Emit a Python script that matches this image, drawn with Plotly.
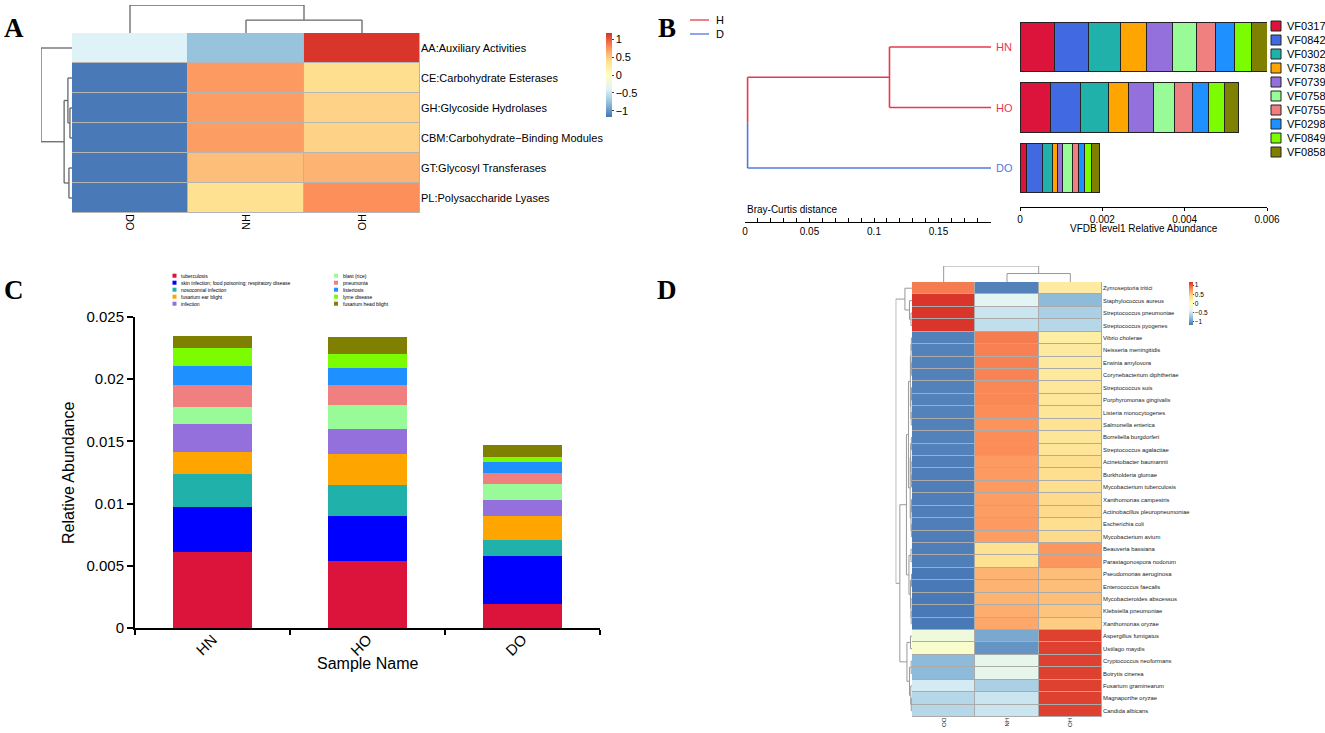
import plotly.graph_objects as go

W, H = 1325, 733
def px(x): return x / W
def py(y): return 1 - y / H

SANS = "Liberation Sans, Arial, Helvetica"
SERIF = "Liberation Serif, Times New Roman, serif"

RDYLBU = ["#4575B4", "#91BFDB", "#E0F3F8", "#FFFFBF", "#FEE090", "#FC8D59", "#D73027"]
CSCALE = [[i / 6, c] for i, c in enumerate(RDYLBU)]
ZR = 1.17
cb_vals = [1, 0.5, 0, -0.5, -1]
cb_text = ["1", "0.5", "0", "\u22120.5", "\u22121"]

# ---------------- Panel A data ----------------
a_cols = ["DO", "HN", "HO"]
a_rows = ["AA:Auxiliary Activities", "CE:Carbohydrate Esterases", "GH:Glycoside Hydrolases",
          "CBM:Carbohydrate\u2212Binding Modules", "GT:Glycosyl Transferases", "PL:Polysaccharide Lyases"]
a_z = [
    [-0.40, -0.75, 1.15],
    [-1.15, 0.72, 0.40],
    [-1.15, 0.70, 0.45],
    [-1.15, 0.70, 0.45],
    [-1.15, 0.55, 0.60],
    [-1.15, 0.38, 0.77],
]
a_col_tree = (0, (1, 2, 0.46), 1.0)
a_row_tree = (0, ((1, (2, 3, 2.0), 4.0), (4, 5, 3.0), 7.7), 30.3)

# ---------------- Panel B data ----------------
b_samples = ["HN", "HO", "DO"]
b_groups = ["H", "H", "D"]
b_group_names = ["H", "D"]
b_group_colors = ["#E8384F", "#5078E0"]
b_tree = ((0, 1, 0.112), 2, 0.002)
b_leaf = 0.1907
b_vf = ["VF0317", "VF0842", "VF0302", "VF0738", "VF0739", "VF0758", "VF0755", "VF0298", "VF0849", "VF0858"]
b_colors = ["#DC143C", "#4169E1", "#20B2AA", "#FFA500", "#9370DB", "#98FB98", "#F08080", "#1E90FF", "#7CFC00", "#808000"]
b_HN = [0.000836, 0.000817, 0.000778, 0.000632, 0.000632, 0.000584, 0.000467, 0.000466, 0.000409, 0.000379]
b_HO = [0.000729, 0.000730, 0.000690, 0.000486, 0.000603, 0.000506, 0.000437, 0.000409, 0.000369, 0.000360]
b_DO = [0.000165, 0.000389, 0.000234, 0.000117, 0.000136, 0.000224, 0.000166, 0.000126, 0.000175, 0.000194]

# ---------------- Panel C data ----------------
c_samples = ["HN", "HO", "DO"]
c_diseases = ["tuberculosis", "skin infection; food poisoning; respiratory disease", "nosocomial infection",
              "fusarium ear blight", "infection", "blast (rice)", "pneumonia", "listeriosis",
              "lyme disease", "fusarium head blight"]
c_colors = ["#DC143C", "#0000FF", "#20B2AA", "#FFA500", "#9370DB", "#98FB98", "#F08080", "#1E90FF", "#7CFC00", "#808000"]
c_HN = [0.00607, 0.00368, 0.00266, 0.00177, 0.00220, 0.00142, 0.00172, 0.00158, 0.00138, 0.00102]
c_HO = [0.00537, 0.00365, 0.00250, 0.00250, 0.00198, 0.00191, 0.00164, 0.00139, 0.00111, 0.00137]
c_DO = [0.00190, 0.00389, 0.00131, 0.00193, 0.00124, 0.00133, 0.00084, 0.00093, 0.00038, 0.00096]

# ---------------- Panel D data ----------------
d_cols = ["DO", "HN", "HO"]
d_rows = ["Zymoseptoria tritici", "Staphylococcus aureus", "Streptococcus pneumoniae", "Streptococcus pyogenes",
          "Vibrio cholerae", "Neisseria meningitidis", "Erwinia amylovora", "Corynebacterium diphtheriae",
          "Streptococcus suis", "Porphyromonas gingivalis", "Listeria monocytogenes", "Salmonella enterica",
          "Borreliella burgdorferi", "Streptococcus agalactiae", "Acinetobacter baumannii", "Burkholderia glumae",
          "Mycobacterium tuberculosis", "Xanthomonas campestris", "Actinobacillus pleuropneumoniae",
          "Escherichia coli", "Mycobacterium avium", "Beauveria bassiana", "Parastagonospora nodorum",
          "Pseudomonas aeruginosa", "Enterococcus faecalis", "Mycobacteroides abscessus", "Klebsiella pneumoniae",
          "Xanthomonas oryzae", "Aspergillus fumigatus", "Ustilago maydis", "Cryptococcus neoformans",
          "Botrytis cinerea", "Fusarium graminearum", "Magnaporthe oryzae", "Candida albicans"]
d_z = [
    [0.85, -1.10, 0.25], [1.15, -0.35, -0.80], [1.15, -0.50, -0.65], [1.15, -0.55, -0.60],
    [-1.10, 0.85, 0.22], [-1.10, 0.83, 0.27], [-1.10, 0.83, 0.27], [-1.10, 0.82, 0.28],
    [-1.10, 0.80, 0.30], [-1.10, 0.80, 0.30], [-1.10, 0.78, 0.32], [-1.10, 0.75, 0.35],
    [-1.10, 0.78, 0.32], [-1.10, 0.78, 0.33], [-1.12, 0.72, 0.40], [-1.12, 0.72, 0.40],
    [-1.12, 0.72, 0.40], [-1.12, 0.70, 0.42], [-1.12, 0.70, 0.42], [-1.12, 0.72, 0.40],
    [-1.12, 0.70, 0.42], [-1.12, 0.38, 0.74], [-1.12, 0.38, 0.74], [-1.15, 0.60, 0.55],
    [-1.15, 0.60, 0.55], [-1.15, 0.60, 0.55], [-1.15, 0.63, 0.52], [-1.15, 0.66, 0.48],
    [-0.20, -0.90, 1.10], [-0.08, -1.00, 1.10], [-0.80, -0.30, 1.10], [-0.80, -0.30, 1.10],
    [-0.45, -0.65, 1.10], [-0.60, -0.50, 1.10], [-0.60, -0.50, 1.10],
]
d_col_tree = (0, (1, 2, 0.53), 1.0)
_g1 = (0, (1, (2, 3, 1.0), 2.5), 7.0)
_g2a1 = (((4, 5, 0.6), (6, 7, 0.6), 1.0), ((8, 9, 0.5), (10, 11, 0.8), 1.1), 1.6)
_g2a2 = (((12, 13, 0.6), (14, (15, 16, 0.5), 0.9), 1.3), ((17, 18, 0.5), (19, 20, 0.6), 1.0), 1.8)
_g2b = ((21, 22, 1.0), ((23, 24, 0.5), (25, (26, 27, 0.8), 1.0), 1.5), 3.0)
_g3 = ((28, 29, 1.5), ((30, 31, 0.8), (32, (33, 34, 0.7), 1.2), 2.5), 5.0)
d_row_tree = (_g1, (((_g2a1, _g2a2, 3.5), _g2b, 5.5), _g3, 12.0), 16.0)


# ---------------- helpers ----------------
def center(node):
    if isinstance(node, int):
        return float(node)
    return (center(node[0]) + center(node[1])) / 2


def height(node, leaf_h=0.0):
    return leaf_h if isinstance(node, int) else node[2]


def dendro(tree, leaf_h=0.0):
    segs = []

    def rec(node):
        if isinstance(node, int):
            return float(node), leaf_h
        l, r, h = node
        pl, hl = rec(l)
        pr, hr = rec(r)
        segs.append((pl, hl, pl, h))
        segs.append((pl, h, pr, h))
        segs.append((pr, h, pr, hr))
        return (pl + pr) / 2, h

    rec(tree)
    return segs


def seg_xy(segs, pos_is_x=True):
    xs, ys = [], []
    for p0, h0, p1, h1 in segs:
        if pos_is_x:
            xs += [p0, p1, None]; ys += [h0, h1, None]
        else:
            xs += [h0, h1, None]; ys += [p0, p1, None]
    return xs, ys


def note(x, y, text, size, xanchor="center", yanchor="middle", color="black", family=SANS, **kw):
    d = dict(x=px(x), y=py(y), xref="paper", yref="paper", text=text, showarrow=False,
             xanchor=xanchor, yanchor=yanchor, font=dict(family=family, size=size, color=color))
    d.update(kw)
    return d


fig = go.Figure()
shapes, annos = [], []

# ================= Panel A =================
fig.add_trace(go.Heatmap(
    z=a_z, x=list(range(len(a_cols))), y=list(range(len(a_rows))), colorscale=CSCALE,
    zmin=-ZR, zmax=ZR, xgap=1, ygap=1, xaxis="x", yaxis="y", hoverinfo="skip",
    colorbar=dict(x=px(606), xanchor="left", y=py(33), yanchor="top", len=84, lenmode="pixels",
                  thickness=6, xpad=0, ypad=0, outlinewidth=0, tickvals=cb_vals, ticktext=cb_text,
                  ticks="outside", ticklen=2, tickfont=dict(size=11, family=SANS, color="black"))))
shapes.append(dict(type="rect", xref="x", yref="y", x0=-0.5, x1=len(a_cols) - 0.5, y0=-0.5,
                   y1=len(a_rows) - 0.5, fillcolor="#B5B5B5", line=dict(width=1, color="#B5B5B5"), layer="below"))
xs, ys = seg_xy(dendro(a_col_tree), pos_is_x=True)
fig.add_trace(go.Scatter(x=xs, y=ys, mode="lines", line=dict(color="#666666", width=1.3),
                         xaxis="x2", yaxis="y2", hoverinfo="skip"))
xs, ys = seg_xy(dendro(a_row_tree), pos_is_x=False)
fig.add_trace(go.Scatter(x=xs, y=ys, mode="lines", line=dict(color="#666666", width=1.3),
                         xaxis="x3", yaxis="y3", hoverinfo="skip"))

# ================= Panel B =================
left, right, hroot = b_tree
pl, pr = center(left), center(right)
mid = (pl + pr) / 2
red_segs = dendro(left, b_leaf) + [(pl, height(left, b_leaf), pl, hroot), (pl, hroot, mid, hroot)]
blue_segs = dendro(right, b_leaf) + [(pr, height(right, b_leaf), pr, hroot), (mid, hroot, pr, hroot)]
for segs, col in [(red_segs, b_group_colors[0]), (blue_segs, b_group_colors[1])]:
    xs, ys = seg_xy(segs, pos_is_x=False)
    fig.add_trace(go.Scatter(x=xs, y=ys, mode="lines", line=dict(color=col, width=1.6),
                             xaxis="x4", yaxis="y4", hoverinfo="skip"))
for i, s in enumerate(b_samples):
    col = b_group_colors[b_group_names.index(b_groups[i])]
    annos.append(dict(x=b_leaf, y=i, xref="x4", yref="y4", text=s, showarrow=False, xanchor="left",
                      yanchor="middle", xshift=3, font=dict(family=SANS, size=11, color=col)))
annos.append(note(745, 210, "Bray-Curtis distance", 10, xanchor="left"))
for k, g in enumerate(b_group_names):
    yy = 20 + 14 * k
    shapes.append(dict(type="line", xref="paper", yref="paper", x0=px(690), x1=px(709), y0=py(yy), y1=py(yy),
                       line=dict(color=b_group_colors[k], width=1.3)))
    annos.append(note(714, yy, g, 11, xanchor="left"))

b_all = [b_HN, b_HO, b_DO]
for j, vf in enumerate(b_vf):
    fig.add_trace(go.Bar(x=[row[j] for row in b_all], y=list(range(len(b_samples))), orientation="h",
                         marker=dict(color=b_colors[j], line=dict(color="#222222", width=1)), width=0.82,
                         xaxis="x5", yaxis="y5", hoverinfo="skip"))
annos.append(note(1144, 229, "VFDB level1 Relative Abundance", 10))
for j, vf in enumerate(b_vf):
    yy = 26 + 14 * j
    shapes.append(dict(type="rect", xref="paper", yref="paper", x0=px(1271), x1=px(1281),
                       y0=py(yy - 5), y1=py(yy + 5), fillcolor=b_colors[j], line=dict(color="#222222", width=1)))
    annos.append(note(1285, yy, vf, 11, xanchor="left"))

# ================= Panel C =================
c_all = [c_HN, c_HO, c_DO]
for j, dname in enumerate(c_diseases):
    fig.add_trace(go.Bar(x=c_samples, y=[row[j] for row in c_all], marker=dict(color=c_colors[j], line=dict(width=0)),
                         width=0.51, xaxis="x6", yaxis="y6", hoverinfo="skip"))
for j, dname in enumerate(c_diseases):
    colx = 172.5 if j < 5 else 334.0
    yy = 275.7 + 7 * (j % 5)
    shapes.append(dict(type="rect", xref="paper", yref="paper", x0=px(colx), x1=px(colx + 4),
                       y0=py(yy - 2), y1=py(yy + 2), fillcolor=c_colors[j], line=dict(width=0)))
    annos.append(note(colx + 6.5, yy, dname, 5, xanchor="left"))
annos.append(note(68, 473, "Relative Abundance", 16, textangle=-90))
annos.append(note(367, 663, "Sample Name", 16))

# ================= Panel D =================
fig.add_trace(go.Heatmap(
    z=d_z, x=list(range(len(d_cols))), y=list(range(len(d_rows))), colorscale=CSCALE,
    zmin=-ZR, zmax=ZR, xgap=1, ygap=1, xaxis="x7", yaxis="y7", hoverinfo="skip",
    colorbar=dict(x=px(1189), xanchor="left", y=py(282), yanchor="top", len=43, lenmode="pixels",
                  thickness=4, xpad=0, ypad=0, outlinewidth=0, tickvals=cb_vals, ticktext=cb_text,
                  ticks="outside", ticklen=1, tickfont=dict(size=6.5, family=SANS, color="black"))))
shapes.append(dict(type="rect", xref="x7", yref="y7", x0=-0.5, x1=len(d_cols) - 0.5, y0=-0.5,
                   y1=len(d_rows) - 0.5, fillcolor="#ABABAB", line=dict(width=1, color="#ABABAB"), layer="below"))
xs, ys = seg_xy(dendro(d_col_tree), pos_is_x=True)
fig.add_trace(go.Scatter(x=xs, y=ys, mode="lines", line=dict(color="#999999", width=1),
                         xaxis="x8", yaxis="y8", hoverinfo="skip"))
xs, ys = seg_xy(dendro(d_row_tree), pos_is_x=False)
fig.add_trace(go.Scatter(x=xs, y=ys, mode="lines", line=dict(color="#999999", width=1),
                         xaxis="x9", yaxis="y9", hoverinfo="skip"))

# ================= panel letters =================
for lab, (lx, ly) in {"A": (14, 28), "B": (667, 28), "C": (14, 290), "D": (667, 290)}.items():
    annos.append(note(lx, ly, f"<b>{lab}</b>", 27, family=SERIF))


def hidden(domain, rng, anchor):
    return dict(domain=domain, range=rng, visible=False, showgrid=False, zeroline=False, anchor=anchor)


base_tick = dict(showgrid=False, zeroline=False)
a_dom_x = [px(72), px(420)]
a_dom_y = [py(213), py(33)]
b_dom_y = [py(198.25), py(16.75)]
d_dom_x = [px(912), px(1102)]
d_dom_y = [py(717), py(282)]

fig.update_layout(
    width=W, height=H, margin=dict(l=0, r=0, t=0, b=0, autoexpand=False),
    paper_bgcolor="white", plot_bgcolor="white", showlegend=False, barmode="stack",
    font=dict(family=SANS, color="black"),
    xaxis=dict(domain=a_dom_x, range=[-0.5, 2.5], anchor="y", tickmode="array", tickvals=list(range(3)),
               ticktext=a_cols, tickangle=90, ticks="", showline=False,
               tickfont=dict(family=SANS, size=11, color="black"), **base_tick),
    yaxis=dict(domain=a_dom_y, range=[len(a_rows) - 0.5, -0.5], anchor="x", side="right", tickmode="array",
               tickvals=list(range(len(a_rows))), ticktext=a_rows, ticks="", showline=False,
               tickfont=dict(family=SANS, size=11, color="black"), **base_tick),
    xaxis2=hidden(a_dom_x, [-0.5, 2.5], "y2"),
    yaxis2=hidden([py(33), py(5)], [0, 1.0], "x2"),
    xaxis3=hidden([px(41), px(72)], [30.3, 0], "y3"),
    yaxis3=hidden(a_dom_y, [len(a_rows) - 0.5, -0.5], "x3"),
    xaxis4=dict(domain=[px(745), px(991)], range=[0, b_leaf], anchor="free", position=py(222),
                showline=True, linecolor="black", linewidth=1, ticks="inside", ticklen=4, tickcolor="black",
                tickmode="array", tickvals=[0, 0.05, 0.1, 0.15], ticktext=["0", "0.05", "0.1", "0.15"],
                minor=dict(dtick=0.01, tick0=0, ticks="inside", ticklen=4, tickcolor="black"),
                tickfont=dict(family=SANS, size=10, color="black"), **base_tick),
    yaxis4=hidden(b_dom_y, [2.5, -0.5], "x4"),
    xaxis5=dict(domain=[px(1020), px(1267)], range=[0, 0.006], anchor="free", position=py(207),
                showline=True, linecolor="black", linewidth=1, ticks="outside", ticklen=3, tickcolor="black",
                tickmode="array", tickvals=[0, 0.002, 0.004, 0.006], ticktext=["0", "0.002", "0.004", "0.006"],
                tickfont=dict(family=SANS, size=10, color="black"), **base_tick),
    yaxis5=hidden(b_dom_y, [2.5, -0.5], "x5"),
    xaxis6=dict(domain=[px(135), px(600)], anchor="y6", type="category", categoryorder="array",
                categoryarray=c_samples, range=[-0.5, 2.5], showline=True, linecolor="black", linewidth=2,
                ticks="outside", tickson="boundaries", ticklen=5, tickwidth=2, tickcolor="black", tickangle=-45,
                ticklabelstandoff=-5,
                tickfont=dict(family=SANS, size=15, color="black"), **base_tick),
    yaxis6=dict(domain=[py(628), py(317)], range=[0, 0.025], anchor="x6", showline=True, linecolor="black",
                linewidth=2, ticks="outside", ticklen=6, tickwidth=2, tickcolor="black", tickmode="array",
                tickvals=[0, 0.005, 0.01, 0.015, 0.02, 0.025],
                ticktext=["0", "0.005", "0.01", "0.015", "0.02", "0.025"],
                tickfont=dict(family=SANS, size=15, color="black"), **base_tick),
    xaxis7=dict(domain=d_dom_x, range=[-0.5, 2.5], anchor="y7", tickmode="array", tickvals=list(range(3)),
                ticktext=d_cols, tickangle=90, ticks="", showline=False,
                tickfont=dict(family=SANS, size=6, color="#222222"), **base_tick),
    yaxis7=dict(domain=d_dom_y, range=[len(d_rows) - 0.5, -0.5], anchor="x7", side="right", tickmode="array",
                tickvals=list(range(len(d_rows))), ticktext=d_rows, ticks="", showline=False,
                tickfont=dict(family=SANS, size=5.9, color="#222222"), **base_tick),
    xaxis8=hidden(d_dom_x, [-0.5, 2.5], "y8"),
    yaxis8=hidden([py(282), py(266)], [0, 1.0], "x8"),
    xaxis9=hidden([px(895.5), px(912)], [16.3, 0], "y9"),
    yaxis9=hidden(d_dom_y, [len(d_rows) - 0.5, -0.5], "x9"),
    shapes=shapes, annotations=annos,
)

fig.write_html("out.html", config={"displayModeBar": False},
               post_script="document.body.style.margin='0px';")
